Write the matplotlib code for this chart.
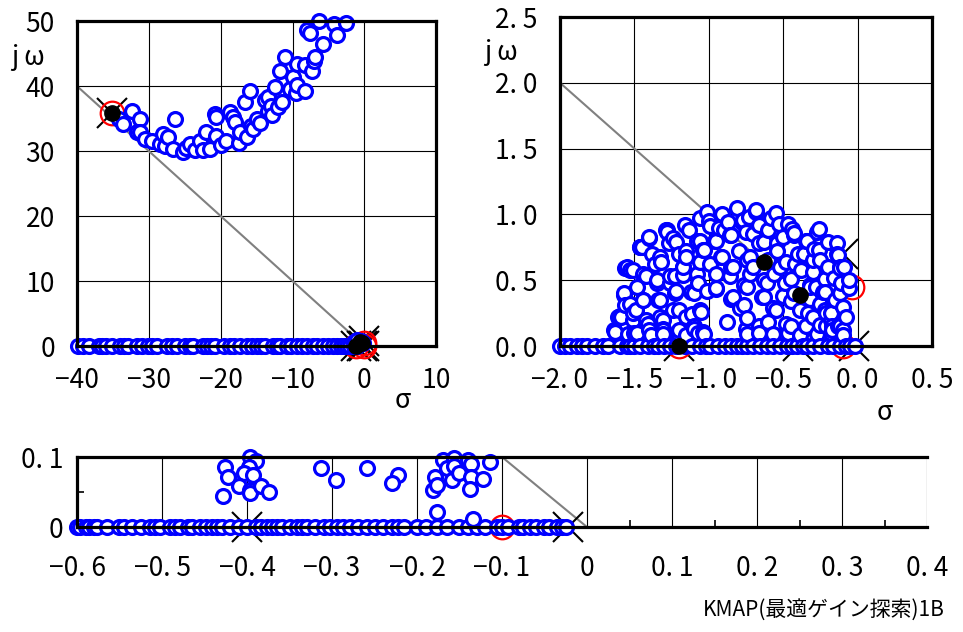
import numpy as np
import matplotlib.pyplot as plt
from matplotlib.ticker import MultipleLocator

plt.rcParams['font.family'] = ['Noto Sans CJK JP', 'DejaVu Sans']

# open-loop poles (x), zeros (red o), closed-loop poles (black dots)
pole_x = [-35.2, -1.2, -0.4, -0.1, -0.022]
pole_y = [35.8, 0.0, 0.0, 0.7, 0.0]
zero_x = [-35.2, -1.2, -0.04, -0.1]
zero_y = [35.8, 0.0, 0.45, 0.0]
cl_x = [-35.2, -1.2, -0.63, -0.39]
cl_y = [35.8, 0.0, 0.64, 0.39]

# damping line
diag_x = [-40, 0]
diag_y = [40, 0]

# top-left panel: root locus search points
tl_axis_x = [-39.8, -39.2, -38.4, -37.0, -36.5, -35.9, -35.2, -34.0, -33.4, -32.9, -31.7,
             -31.0, -30.1, -29.5, -28.9, -27.5, -26.8, -26.1, -25.0, -24.3, -23.8, -22.5,
             -21.9, -21.3, -20.8, -19.6, -18.7, -18.1, -17.3, -16.4, -15.7, -15.0, -14.4,
             -13.8, -12.7, -12.1, -11.7, -10.8, -10.2, -9.4, -8.7, -8.0, -7.2, -6.6, -5.7,
             -5.0, -4.4, -3.8, -3.3, -2.9, -2.4, -2.0, -1.5, -1.0]
tl_curve_x = [-34.2, -33.6, -32.4, -31.3, -31.7, -31.3, -30.5, -29.6, -28.5, -28.0, -27.8,
              -27.3, -26.6, -26.4, -25.2, -24.8, -24.3, -23.6, -22.9, -22.5, -22.0, -21.5,
              -20.8, -20.6, -20.6, -20.0, -19.2, -18.7, -18.3, -18.0, -17.5, -17.3, -16.6,
              -16.3, -15.9, -15.8, -15.5, -15.0, -14.6, -13.8, -13.4, -13.4, -13.0, -12.8,
              -12.4, -12.0, -11.7, -11.5, -11.0, -10.3, -9.9, -9.5, -9.4, -9.4, -8.3, -8.2,
              -8.0, -7.6, -7.3, -7.0, -6.9, -6.3, -5.7, -4.3, -3.8, -2.5,
              -1.5, -1.0, -0.5, -0.2]
tl_curve_y = [35.0, 34.2, 36.2, 35.0, 32.9, 32.9, 31.8, 31.6, 31.1, 32.6, 30.8,
              32.2, 30.3, 35.0, 29.8, 30.5, 31.1, 30.1, 31.6, 30.2, 32.9, 30.3,
              35.7, 35.3, 32.4, 31.0, 31.6, 36.0, 35.2, 34.5, 31.3, 32.9, 37.5,
              32.2, 39.3, 33.8, 33.4, 35.0, 34.4, 37.8, 38.3, 36.2, 37.0, 35.6,
              39.8, 36.8, 42.4, 37.5, 44.5, 39.5, 41.4, 39.0, 43.4, 40.1, 43.2, 39.3,
              48.6, 48.2, 42.4, 43.8, 44.5, 50.0, 46.5, 49.6, 47.8, 49.7,
              0.6, 0.9, 0.8, 0.4]

# top-right panel
tr_axis_x = [-2.0, -1.966, -1.93, -1.888, -1.85, -1.82, -1.765, -1.709, -1.68, -1.597,
             -1.55, -1.529, -1.5, -1.462, -1.406, -1.37, -1.339, -1.3, -1.26, -1.22, -1.16,
             -1.11, -1.058, -1.02, -0.991, -0.94, -0.89, -0.85, -0.812, -0.78, -0.744, -0.7,
             -0.655, -0.61, -0.566, -0.52, -0.475, -0.44, -0.408, -0.37, -0.341, -0.3,
             -0.252, -0.2, -0.162, -0.12, -0.08, -0.05, -0.02]
tr_cloud_x = [-1.01, -1.06, -0.91, -0.99, -1.28, -1.40, -1.24, -1.46, -1.38, -1.32, -1.56,
              -1.51, -1.17, -1.08, -0.96, -1.04, -1.15, -1.06, -0.91, -1.42, -1.35, -1.23,
              -1.07, -1.12, -1.23, -0.95, -1.57, -1.56, -1.34, -1.44, -1.49, -1.59, -1.51,
              -1.41, -1.31, -1.20, -1.11, -1.05, -1.63, -1.50, -1.40, -1.31, -1.20, -1.10,
              -1.04, -1.17, -1.26, -1.55, -1.60, -1.29, -1.45,
              -0.81, -0.68, -0.55, -0.87, -0.77, -0.66, -0.53, -0.44, -0.85, -0.75, -0.63,
              -0.54, -0.43, -0.35, -0.26, -0.29, -0.20, -0.25, -0.13, -0.12, -0.11, -0.06,
              -0.85, -0.72, -0.48, -0.38, -0.30, -0.22, -0.22, -0.32, -0.49, -0.86, -0.76,
              -0.61, -0.64, -0.76, -0.85, -0.55, -0.45, -0.32, -0.33, -0.22, -0.17, -0.12,
              -0.25, -0.45, -0.60, -0.75, -0.35, -0.88, -0.18, -0.17, -0.21, -0.14,
              -0.68, -0.78, -0.86, -0.95, -1.06, -1.16, -1.03, -0.92, -0.84, -0.74, -0.66,
              -0.54, -0.43, -0.34, -0.27, -0.26, -0.14, -0.12, -0.23, -0.32, -0.45, -0.52,
              -0.63, -0.74, -0.84, -0.79, -0.74, -0.63, -0.57, -0.66, -0.48, -0.39, -0.30,
              -0.21, -0.13, -0.18, -0.25, -0.43, -0.95, -1.01, -1.08, -1.17, -1.26, -1.35,
              -1.44, -1.53, -1.46, -1.40, -1.28, -1.22, -1.33, -1.15, -1.57, -1.53, -1.44,
              -1.33, -1.22, -1.10, -1.06, -1.15, -1.24, -1.33, -1.42, -1.51, -1.61, -1.64,
              -1.48, -1.31, -1.10, -1.03,
              -1.54, -1.48, -1.39, -1.31, -1.21, -1.15, -1.07, -0.74, -0.66, -0.57, -0.47,
              -0.39, -0.27, -0.18, -0.10,
              -0.90, -0.70, -0.60, -0.50, -0.80, -0.70, -0.60, -0.95, -0.40, -0.30, -0.20,
              -0.15, -0.10, -0.08, -0.10, -0.12, -0.06,
              -1.00, -0.93, -0.73, -0.58, -0.47, -0.36, -1.20, -1.36, -1.48, -0.56, -0.42,
              -0.28, -0.16, -0.09, -1.27, -1.13, -0.99, -0.72, -0.50]
tr_cloud_y = [1.02, 0.97, 1.00, 0.91, 0.88, 0.82, 0.82, 0.75, 0.70, 0.64, 0.59,
              0.58, 0.60, 0.80, 0.80, 0.73, 0.72, 0.64, 0.68, 0.53, 0.48, 0.53,
              0.48, 0.41, 0.40, 0.43, 0.39, 0.31, 0.35, 0.35, 0.27, 0.22, 0.20,
              0.17, 0.20, 0.27, 0.24, 0.26, 0.11, 0.10, 0.12, 0.13, 0.12, 0.15,
              0.11, 0.54, 0.48, 0.60, 0.23, 0.88, 0.75,
              1.05, 1.02, 1.01, 0.94, 0.96, 0.92, 0.93, 0.89, 0.84, 0.87, 0.79,
              0.78, 0.84, 0.80, 0.89, 0.74, 0.79, 0.65, 0.69, 0.60, 0.48, 0.44,
              0.60, 0.68, 0.64, 0.58, 0.56, 0.51, 0.41, 0.46, 0.48, 0.53, 0.46,
              0.48, 0.37, 0.31, 0.36, 0.27, 0.34, 0.36, 0.25, 0.27, 0.15, 0.15,
              0.16, 0.15, 0.18, 0.13, 0.15, 0.18, 0.20, 0.12, 0.25, 0.78,
              1.03, 0.94, 0.84, 0.80, 0.80, 0.92, 0.73, 0.68, 0.60, 0.65, 0.78,
              0.72, 0.86, 0.80, 0.87, 0.73, 0.70, 0.59, 0.41, 0.45, 0.51, 0.60,
              0.50, 0.45, 0.37, 0.29, 0.21, 0.37, 0.29, 0.15, 0.17, 0.27, 0.22,
              0.15, 0.15, 0.25, 0.32, 0.40, 0.44, 0.42, 0.55, 0.60, 0.53, 0.50,
              0.55, 0.58, 0.75, 0.83, 0.87, 0.79, 0.68, 0.68, 0.40, 0.32, 0.35,
              0.35, 0.42, 0.40, 0.27, 0.22, 0.27, 0.22, 0.20, 0.25, 0.22, 0.12,
              0.09, 0.12, 0.13, 0.09,
              0.09, 0.10, 0.08, 0.09, 0.10, 0.08, 0.10, 0.09, 0.10, 0.09, 0.10,
              0.08, 0.09, 0.10, 0.12,
              0.88, 0.85, 0.88, 0.83, 0.72, 0.60, 0.65, 0.55, 0.70, 0.65, 0.60,
              0.35, 0.30, 0.22, 0.08, 0.40, 0.50,
              0.95, 0.90, 0.98, 0.97, 0.93, 0.70, 0.70, 0.62, 0.45, 0.55, 0.62,
              0.45, 0.52, 0.60, 0.78, 0.88, 0.62, 0.55, 0.38]

# bottom panel
bt_axis_x = [-0.6, -0.596, -0.59, -0.586, -0.58, -0.576, -0.565, -0.551, -0.545, -0.535,
             -0.525, -0.514, -0.508, -0.502, -0.491, -0.485, -0.479, -0.47, -0.465, -0.455,
             -0.448, -0.441, -0.435, -0.429, -0.42, -0.41, -0.40, -0.39, -0.383, -0.376,
             -0.371, -0.365, -0.359, -0.35, -0.341, -0.335, -0.33, -0.32, -0.31, -0.302,
             -0.294, -0.287, -0.279, -0.27, -0.259, -0.25, -0.24, -0.23, -0.222, -0.215,
             -0.2, -0.19, -0.177, -0.165, -0.151, -0.14, -0.13, -0.12, -0.106, -0.1,
             -0.093, -0.08, -0.075, -0.067, -0.06, -0.051, -0.045, -0.035, -0.03, -0.025]
bt_cloud_x = [-0.426, -0.422, -0.428, -0.396, -0.389, -0.398, -0.404, -0.393, -0.410, -0.396,
              -0.396, -0.383, -0.374, -0.313, -0.295, -0.259, -0.222, -0.230, -0.169, -0.157,
              -0.140, -0.114, -0.165, -0.157, -0.136, -0.179, -0.181, -0.177, -0.159, -0.151,
              -0.136, -0.122, -0.138, -0.177, -0.134]
bt_cloud_y = [0.086, 0.072, 0.044, 0.100, 0.095, 0.086, 0.077, 0.074, 0.058, 0.053,
              0.048, 0.058, 0.050, 0.084, 0.067, 0.085, 0.074, 0.063, 0.096, 0.098,
              0.096, 0.093, 0.084, 0.087, 0.090, 0.072, 0.053, 0.060, 0.067, 0.077,
              0.072, 0.068, 0.055, 0.022, 0.012]

# tick labels
tl_xticks = [-40, -30, -20, -10, 0, 10]
tl_xlabels = ['−40', '−30', '−20', '−10', '0', '10']
tl_yticks = [0, 10, 20, 30, 40, 50]
tl_ylabels = ['0', '10', '20', '30', '40', '50']
tr_xticks = [-2.0, -1.5, -1.0, -0.5, 0.0, 0.5]
tr_xlabels = ['−2. 0', '−1. 5', '−1. 0', '−0. 5', '0. 0', '0. 5']
tr_yticks = [0.0, 0.5, 1.0, 1.5, 2.0, 2.5]
tr_ylabels = ['0. 0', '0. 5', '1. 0', '1. 5', '2. 0', '2. 5']
bt_xticks = [-0.6, -0.5, -0.4, -0.3, -0.2, -0.1, 0, 0.1, 0.2, 0.3, 0.4]
bt_xlabels = ['−0. 6', '−0. 5', '−0. 4', '−0. 3', '−0. 2', '−0. 1', '0',
              '0. 1', '0. 2', '0. 3', '0. 4']
bt_yticks = [0, 0.1]
bt_ylabels = ['0', '0. 1']

BLUE = '#0000FF'
FS = 19


def in_range(xs, ys, xlim, ylim):
    xs = np.asarray(xs, float)
    ys = np.asarray(ys, float)
    ok = (xs >= xlim[0]) & (xs <= xlim[1]) & (ys >= ylim[0]) & (ys <= ylim[1])
    return xs[ok], ys[ok]


def draw_panel(ax, xlim, ylim, pts_x, pts_y):
    ax.set_xlim(xlim)
    ax.set_ylim(ylim)
    ax.plot(diag_x, diag_y, color='#808080', lw=1.5, zorder=2)
    px, py = in_range(pole_x, pole_y, xlim, ylim)
    ax.plot(px, py, 'x', ms=22, mew=1.5, color='black', clip_on=False, zorder=3)
    zx, zy = in_range(zero_x, zero_y, xlim, ylim)
    ax.plot(zx, zy, 'o', ms=17, mew=1.6, mfc='none', mec='red', clip_on=False, zorder=4)
    bx, by = in_range(pts_x, pts_y, xlim, ylim)
    ax.plot(bx, by, 'o', ms=10, mew=2.3, mfc='white', mec=BLUE, ls='none',
            clip_on=False, zorder=5)
    cx, cy = in_range(cl_x, cl_y, xlim, ylim)
    ax.plot(cx, cy, 'o', ms=11, color='black', clip_on=False, zorder=6)
    for s in ax.spines.values():
        s.set_linewidth(2.3)
        s.set_zorder(7)
    ax.grid(True, color='black', lw=0.8)
    ax.set_axisbelow(True)


fig = plt.figure(figsize=(9.63, 6.32), dpi=100)
ax1 = fig.add_axes([0.080, 0.4525, 0.373, 0.514])
ax2 = fig.add_axes([0.5815, 0.4525, 0.3863, 0.5206])
ax3 = fig.add_axes([0.080, 0.166, 0.8827, 0.1108])

# top-left
tl_x = tl_axis_x + tl_curve_x
tl_y = [0.0] * len(tl_axis_x) + tl_curve_y
draw_panel(ax1, (-40, 10), (0, 50), tl_x, tl_y)
ax1.set_xticks(tl_xticks, tl_xlabels)
ax1.set_yticks(tl_yticks, tl_ylabels)
ax1.tick_params(length=0, labelsize=FS)
ax1.tick_params(axis='x', pad=15)
ax1.tick_params(axis='y', pad=16)
fig.text(0.012, 0.897, 'j ω', fontsize=FS)
fig.text(0.410, 0.355, 'σ', fontsize=FS, style='italic')

# top-right
tr_x = tr_axis_x + tr_cloud_x
tr_y = [0.0] * len(tr_axis_x) + tr_cloud_y
order = np.argsort(tr_x, kind='stable')
draw_panel(ax2, (-2.0, 0.5), (0, 2.5), list(np.array(tr_x)[order]), list(np.array(tr_y)[order]))
ax2.set_xticks(tr_xticks, tr_xlabels)
ax2.set_yticks(tr_yticks, tr_ylabels)
ax2.tick_params(length=0, labelsize=FS)
ax2.tick_params(axis='x', pad=15)
ax2.tick_params(axis='y', pad=16)
fig.text(0.503, 0.905, 'j ω', fontsize=FS)
fig.text(0.910, 0.335, 'σ', fontsize=FS, style='italic')

# bottom
bt_x = bt_axis_x + bt_cloud_x
bt_y = [0.0] * len(bt_axis_x) + bt_cloud_y
draw_panel(ax3, (-0.6, 0.4), (0, 0.1), bt_x, bt_y)
ax3.spines['right'].set_visible(False)
ax3.set_xticks(bt_xticks, bt_xlabels)
ax3.set_yticks(bt_yticks, bt_ylabels)
ax3.xaxis.set_minor_locator(MultipleLocator(0.05))
ax3.yaxis.set_minor_locator(MultipleLocator(0.05))
ax3.tick_params(which='major', length=0, labelsize=FS)
ax3.tick_params(which='minor', direction='in', length=5, width=1.2)
ax3.tick_params(axis='x', which='major', pad=20)
ax3.tick_params(axis='y', which='major', pad=10)

fig.text(0.981, 0.035, 'KMAP(最適ゲイン探索)1B', fontsize=15, ha='right', va='center')

fig.savefig('out.png', dpi=100)
